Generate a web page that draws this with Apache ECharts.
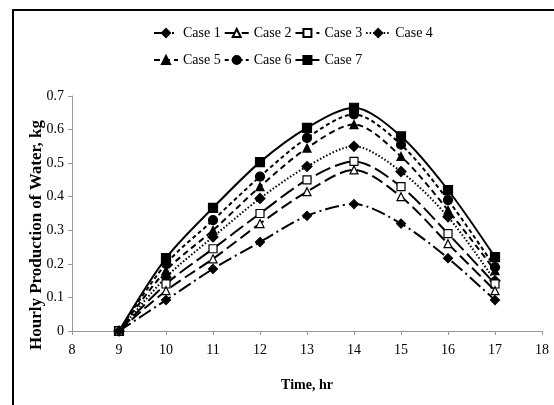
<!DOCTYPE html>
<html><head><meta charset="utf-8">
<script src="https://cdn.jsdelivr.net/npm/echarts@6/dist/echarts.min.js"></script>
<style>html,body{margin:0;padding:0;background:#fff}#c{width:554px;height:405px}</style>
</head><body><div id="c"></div>
<script>
const hours = [9, 10, 11, 12, 13, 14, 15, 16, 17];
const seriesNames = ['Case 1','Case 2','Case 3','Case 4','Case 5','Case 6','Case 7'];
const case1 = [0, 0.092, 0.185, 0.265, 0.343, 0.378, 0.32, 0.217, 0.092];
const case2 = [0, 0.12, 0.215, 0.32, 0.415, 0.48, 0.40, 0.26, 0.12];
const case3 = [0, 0.14, 0.245, 0.35, 0.45, 0.505, 0.43, 0.29, 0.14];
const case4 = [0, 0.16, 0.28, 0.395, 0.49, 0.55, 0.475, 0.34, 0.15];
const case5 = [0, 0.18, 0.30, 0.43, 0.545, 0.615, 0.52, 0.36, 0.18];
const case6 = [0, 0.20, 0.33, 0.46, 0.575, 0.645, 0.555, 0.39, 0.19];
const case7 = [0, 0.217, 0.367, 0.503, 0.605, 0.665, 0.58, 0.42, 0.22];
const xTicks = [8, 9, 10, 11, 12, 13, 14, 15, 16, 17, 18];
const yTicks = [0, 0.1, 0.2, 0.3, 0.4, 0.5, 0.6, 0.7];
const xTitle = 'Time, hr';
const yTitle = 'Hourly Production of Water, kg';

const allValues = [case1, case2, case3, case4, case5, case6, case7];
const styles = [
  {symbol:'diamond', fill:'#000', dash:[14,4,2,4], size:9},
  {symbol:'triangle', fill:'#fff', dash:[12,5], size:8},
  {symbol:'rect', fill:'#fff', dash:[16,5], size:8},
  {symbol:'diamond', fill:'#000', dash:[1.5,2], size:10},
  {symbol:'triangle', fill:'#000', dash:[6,4], size:8},
  {symbol:'circle', fill:'#000', dash:[4,3], size:9},
  {symbol:'rect', fill:'#000', dash:'solid', size:9}
];
const font = '"Liberation Serif", "Times New Roman", serif';
const series = seriesNames.map((n,i)=>({
  name:n, type:'line', smooth:0.3,
  data: hours.map((h,j)=>[h, allValues[i][j]]),
  symbol: styles[i].symbol, symbolSize: styles[i].size,
  lineStyle:{color:'#000', width:2, type: styles[i].dash},
  itemStyle:{color: styles[i].fill, borderColor:'#000', borderWidth:1.2},
  z: 10 - i
}));
const chart = echarts.init(document.getElementById('c'));
const legendCommon = {
  itemWidth: 24, itemHeight: 10, itemGap: 3,
  textStyle:{fontFamily:font, fontSize:14, color:'#000'}
};
chart.setOption({
  animation:false,
  textStyle:{fontFamily:font},
  graphic:[
    {type:'rect', shape:{x:13, y:10, width:700, height:600},
      style:{fill:'none', stroke:'#000', lineWidth:2}, silent:true},
    {type:'text', x:37, y:235, rotation:Math.PI/2,
      style:{text:yTitle, fontFamily:font, fontWeight:'bold', fontSize:17,
        fill:'#000', align:'center', verticalAlign:'middle'}}
  ],
  legend:[
    Object.assign({data:seriesNames.slice(0,4), left:148, top:21}, legendCommon),
    Object.assign({data:seriesNames.slice(4), left:148, top:48}, legendCommon)
  ],
  grid:{left:72, right:12, top:96, bottom:74},
  xAxis:{type:'value', min:8, max:18, interval:1,
    name:xTitle, nameLocation:'middle', nameGap:47,
    nameTextStyle:{fontFamily:font, fontWeight:'bold', fontSize:14, color:'#000'},
    axisLine:{lineStyle:{color:'#999', width:1}},
    axisTick:{show:true, length:4, lineStyle:{color:'#999'}},
    axisLabel:{fontFamily:font, fontSize:14, color:'#000', margin:12,
      formatter: v => xTicks.includes(v) ? String(v) : ''},
    splitLine:{show:false}},
  yAxis:{type:'value', min:0, max:0.7, interval:0.1,
    axisLine:{show:true, lineStyle:{color:'#999', width:1}},
    axisTick:{show:true, length:4, lineStyle:{color:'#999'}},
    axisLabel:{fontFamily:font, fontSize:14, color:'#000', margin:8,
      formatter: v => { const r = Math.round(v*10)/10; return yTicks.includes(r) ? String(r) : ''; }},
    splitLine:{show:false}},
  series: series
});
</script></body></html>
